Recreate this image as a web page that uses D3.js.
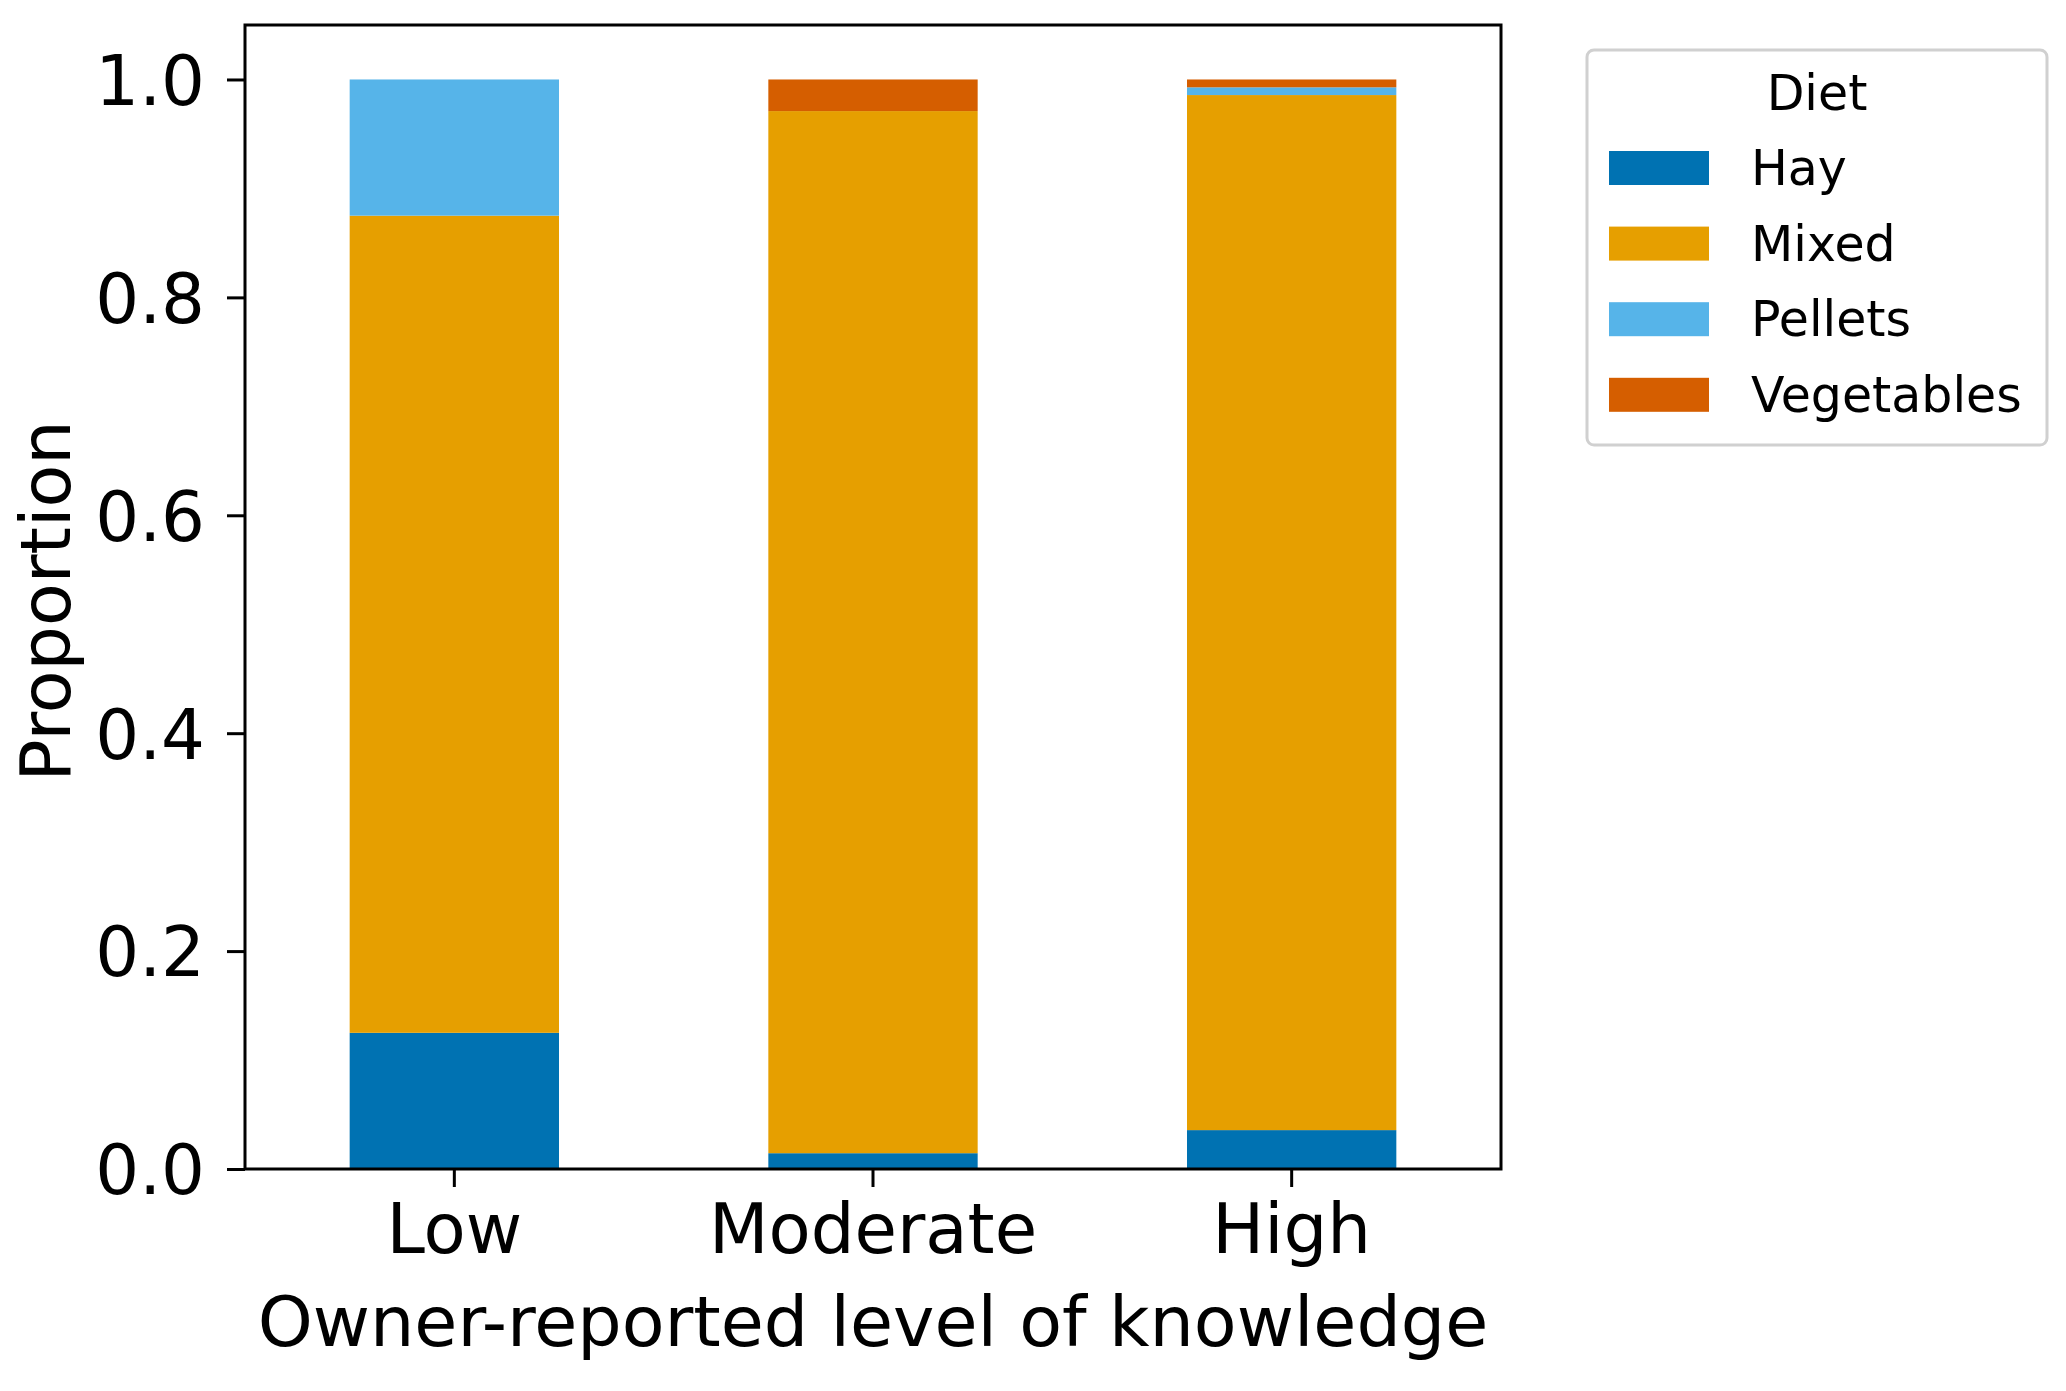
<!DOCTYPE html>
<html>
<head>
<meta charset="utf-8">
<script src="https://cdn.jsdelivr.net/npm/d3@7"></script>
<style>
  body { margin: 0; background: #fff; }
  text { font-family: "DejaVu Sans", sans-serif; fill: #000; }
</style>
</head>
<body>
<div id="chart"></div>
<script>
// Categories and series (proportions per knowledge level)
const levels = ["Low", "Moderate", "High"];
const diets = ["Hay", "Mixed", "Pellets", "Vegetables"];
const hay = [0.125, 0.0145, 0.0357];
const mixed = [0.75, 0.9565, 0.9500];
const pellets = [0.125, 0, 0.0071];
const vegetables = [0, 0.029, 0.0072];
const yTicks = [0, 0.2, 0.4, 0.6, 0.8, 1.0];
const dietColors = ["#0072B2", "#E69F00", "#56B4E9", "#D55E00"];

const W = 2066, H = 1391;
const plot = { left: 245, right: 1501, top: 25, bottom: 1169 };

// build table for d3.stack
const table = levels.map((lv, i) => ({
    level: lv,
    Hay: hay[i],
    Mixed: mixed[i],
    Pellets: pellets[i],
    Vegetables: vegetables[i]
}));

const svg = d3.select("#chart").append("svg")
    .attr("width", W)
    .attr("height", H);

const x = d3.scaleBand()
    .domain(levels)
    .range([plot.left, plot.right])
    .paddingInner(0.5)
    .paddingOuter(0.25);

const y = d3.scaleLinear()
    .domain([0, 1.05])
    .range([plot.bottom, plot.top]);

const color = d3.scaleOrdinal().domain(diets).range(dietColors);

const series = d3.stack().keys(diets)(table);

// stacked bars
svg.append("g")
    .selectAll("g")
    .data(series)
    .enter().append("g")
    .attr("fill", d => color(d.key))
    .selectAll("rect")
    .data(d => d)
    .enter().append("rect")
    .attr("x", d => x(d.data.level))
    .attr("width", x.bandwidth())
    .attr("y", d => y(d[1]))
    .attr("height", d => y(d[0]) - y(d[1]));

// axes
const xAxis = d3.axisBottom(x).tickSize(18).tickPadding(14);
const yAxis = d3.axisLeft(y).tickValues(yTicks).tickSize(18).tickPadding(22)
    .tickFormat(d3.format(".1f"));

const gx = svg.append("g")
    .attr("transform", `translate(0,${plot.bottom})`)
    .call(xAxis);
const gy = svg.append("g")
    .attr("transform", `translate(${plot.left},0)`)
    .call(yAxis);

[gx, gy].forEach(g => {
    g.select(".domain").remove();
    g.selectAll(".tick line").attr("stroke", "#000").attr("stroke-width", 3);
    g.selectAll(".tick text").style("font-size", "69px").attr("fill", "#000");
});
gy.selectAll(".tick text").attr("dy", "0.36em");
gx.selectAll(".tick text").attr("dy", "0.76em");

// frame
svg.append("rect")
    .attr("x", plot.left)
    .attr("y", plot.top)
    .attr("width", plot.right - plot.left)
    .attr("height", plot.bottom - plot.top)
    .attr("fill", "none")
    .attr("stroke", "#000")
    .attr("stroke-width", 3);

// axis labels
svg.append("text")
    .attr("x", (plot.left + plot.right) / 2)
    .attr("y", 1346)
    .attr("text-anchor", "middle")
    .style("font-size", "70px")
    .text("Owner-reported level of knowledge");

svg.append("text")
    .attr("transform", `translate(70,${(plot.top + plot.bottom) / 2 + 4}) rotate(-90)`)
    .attr("text-anchor", "middle")
    .style("font-size", "70px")
    .text("Proportion");

// legend
const legend = svg.append("g").attr("class", "legend");
legend.append("rect")
    .attr("x", 1587)
    .attr("y", 50)
    .attr("width", 460)
    .attr("height", 395)
    .attr("rx", 7)
    .attr("fill", "#fff")
    .attr("stroke", "#d0d0d0")
    .attr("stroke-width", 3);

legend.append("text")
    .attr("x", 1817)
    .attr("y", 110)
    .attr("text-anchor", "middle")
    .style("font-size", "49px")
    .text("Diet");

const items = legend.selectAll(".item")
    .data(diets)
    .enter().append("g")
    .attr("class", "item")
    .attr("transform", (d, i) => `translate(0,${151 + i * 75.6})`);

items.append("rect")
    .attr("x", 1609)
    .attr("y", 0)
    .attr("width", 100)
    .attr("height", 34)
    .attr("fill", d => color(d));

items.append("text")
    .attr("x", 1751)
    .attr("y", 34)
    .style("font-size", "49px")
    .text(d => d);
</script>
</body>
</html>
